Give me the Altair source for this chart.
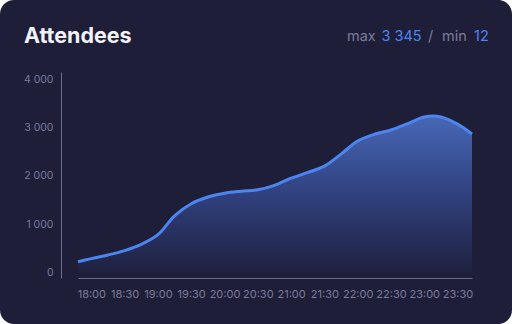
import altair as alt
import pandas as pd

# minutes after 18:00
minutes = [-12, 0, 15, 30, 45, 60, 75, 90, 105, 120, 135, 150, 165, 180, 195,
           210, 225, 240, 255, 270, 285, 300, 315, 330, 343]
attendees = [220, 284, 360, 450, 580, 780, 1170, 1420, 1560, 1640, 1680, 1710,
             1800, 1950, 2070, 2200, 2450, 2720, 2860, 2950, 3080, 3220, 3220,
             3070, 2866]
tick_minutes = [0, 30, 60, 90, 120, 150, 180, 210, 240, 270, 300, 330]
y_ticks = [0, 1000, 2000, 3000, 4000]
title_text = "Attendees"
max_value = "3 345"
min_value = "12"

df = pd.DataFrame({"m": minutes, "v": attendees})

FONT = "Inter"
GRAY = "#7b7b9b"
BLUE = "#4c85ef"
BG = "#1e1e38"

xscale = alt.Scale(domain=[-12, 343], nice=False, zero=False)
yscale = alt.Scale(domain=[-118, 4151], nice=False, zero=False)

card = alt.Chart(pd.DataFrame({"a": [0]})).mark_rect(
    fill=BG, cornerRadius=14
).encode(
    x=alt.value(-78), x2=alt.value(434), y=alt.value(-72), y2=alt.value(252)
)

grad = alt.Gradient(
    gradient="linear",
    stops=[
        alt.GradientStop(color="#4767b6", offset=0),
        alt.GradientStop(color="#30417f", offset=0.5),
        alt.GradientStop(color="#1f213f", offset=1),
    ],
    x1=1, x2=1, y1=0, y2=1,
)

base = alt.Chart(df).encode(
    x=alt.X("m:Q", scale=xscale, axis=alt.Axis(
        values=tick_minutes, title=None, ticks=False, grid=False, zindex=1,
        labelExpr="(floor(datum.value/60)+18) + ':' + (datum.value % 60 == 0 ? '00' : '30')",
        domainColor="#6e6e90", labelColor=GRAY, labelFont=FONT, labelFontSize=11,
        labelPadding=10, labelFlush=False)),
    y=alt.Y("v:Q", scale=yscale, axis=alt.Axis(
        values=y_ticks, title=None, ticks=False, grid=False, offset=17, zindex=1,
        labelExpr="replace(format(datum.value, ','), ',', ' ')",
        domainColor="#6e6e90", labelColor=GRAY, labelFont=FONT, labelFontSize=10.5,
        labelPadding=8)),
)

area = base.mark_area(interpolate="catmull-rom", fill=grad).encode(y2=alt.datum(0))
line = base.mark_line(interpolate="catmull-rom", color=BLUE, strokeWidth=3)

t0 = alt.Chart(pd.DataFrame({"a": [0]}))
title = t0.mark_text(text=title_text, font=FONT, fontSize=21.5, fontWeight=700,
                     color="#f2f2f7", align="left", baseline="alphabetic").encode(
    x=alt.value(-54), y=alt.value(-29))

txt_kw = dict(font=FONT, fontSize=14.5, baseline="alphabetic")
t_max = t0.mark_text(text="max", color=GRAY, align="left", **txt_kw).encode(x=alt.value(269), y=alt.value(-31))
t_maxv = t0.mark_text(text=max_value, color=BLUE, align="left", **txt_kw).encode(x=alt.value(303.5), y=alt.value(-31))
t_sl = t0.mark_text(text="/", color=GRAY, align="center", **txt_kw).encode(x=alt.value(352.5), y=alt.value(-31))
t_min = t0.mark_text(text="min", color=GRAY, align="left", **txt_kw).encode(x=alt.value(364), y=alt.value(-31))
t_minv = t0.mark_text(text=min_value, color=BLUE, align="left", **txt_kw).encode(x=alt.value(396), y=alt.value(-31))

chart = alt.layer(card, area, line, title, t_max, t_maxv, t_sl, t_min, t_minv).properties(
    width=394, height=206,
    autosize=alt.AutoSizeParams(type="none"),
    padding={"left": 78, "top": 72, "right": 40, "bottom": 46},
    background="white",
).configure_view(stroke=None)

chart.save("out.html", embed_options={"renderer": "svg", "actions": False})
